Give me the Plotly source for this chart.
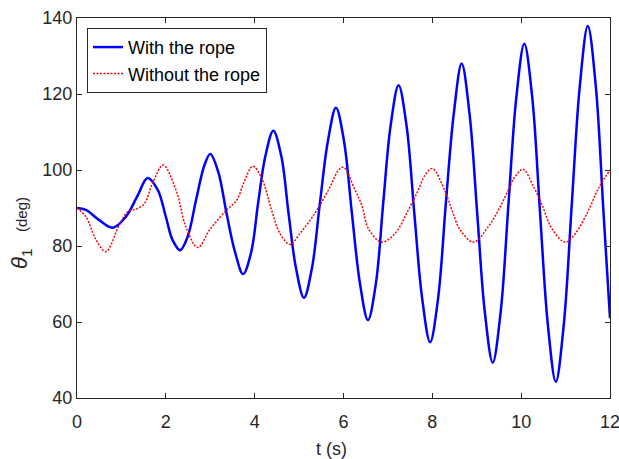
import plotly.graph_objects as go

# With the rope (blue, solid)
t_rope = [0, 0.2, 0.5, 0.80, 1.1, 1.37, 1.59, 1.82, 2.0, 2.15, 2.32, 2.49, 2.68, 2.87,
          3.0, 3.18, 3.37, 3.56, 3.74, 3.92, 4.08, 4.24, 4.42, 4.60, 4.765, 4.93, 5.11,
          5.29, 5.47, 5.65, 5.83, 6.01, 6.19, 6.37, 6.55, 6.73, 6.895, 7.06, 7.24, 7.42,
          7.595, 7.77, 7.95, 8.13, 8.305, 8.48, 8.66, 8.84, 9.01, 9.18, 9.36, 9.54, 9.715,
          9.89, 10.07, 10.25, 10.425, 10.60, 10.78, 10.96, 11.14, 11.32, 11.5, 11.68,
          11.85, 12]
theta_rope = [90, 89.5, 86.8, 84.8, 87.7, 93.4, 97.9, 94.7, 87.7, 81.6, 78.9, 82.4, 92.1, 101.3,
              104.2, 99.5, 88.4, 78.3, 72.6, 78.3, 91.5, 103.6, 110.3, 103.6, 88.4, 74.2, 66.4,
              74.2, 91.4, 107.7, 116.4, 107.7, 88.5, 70.2, 60.5, 70.2, 91.4, 111.6, 122.3, 111.6,
              88.5, 66.3, 54.7, 66.3, 91.35, 114.5, 128.0, 114.5, 88.65, 62.8, 49.3, 62.8, 91.25,
              119.0, 133.2, 119.0, 88.75, 59.4, 44.3, 59.4, 91.1, 122.1, 137.9, 122.1,
              89.5, 61]

# Without the rope (red, dotted)
t_free = [0, 0.2, 0.43, 0.65, 0.95, 1.14, 1.33, 1.52, 1.70, 1.94, 2.23, 2.45, 2.72,
          3.0, 3.37, 3.6, 3.75, 3.96, 4.16, 4.38, 4.57, 4.8, 5.02, 5.25, 5.47, 5.7,
          5.89, 6.0, 6.26, 6.41, 6.56, 6.86, 7.16, 7.46, 7.65, 7.84, 8.0, 8.29, 8.44,
          8.63, 8.93, 9.26, 9.49, 9.71, 9.86, 10.04, 10.28, 10.47, 10.69, 10.99, 11.22,
          11.52, 11.74, 12]
theta_free = [90, 87.7, 81.6, 78.5, 85.5, 89.0, 89.7, 91.2, 96.5, 101.3, 94.7, 85.1, 79.6,
              84.5, 89.5, 92.1, 96.5, 101.0, 97.8, 89.5, 83.3, 80.4, 83.3, 86.8, 90.8, 95.6,
              100.0, 100.7, 94.7, 90.8, 84.6, 81.0, 83.3, 89.5, 93.9, 98.7, 100.4, 94.3, 89.5,
              84.2, 81.0, 85.1, 89.5, 94.7, 98.2, 100.2, 95.6, 90.8, 84.6, 81.0, 83.3,
              89.5, 95.2, 100]

x_ticks = [0, 2, 4, 6, 8, 10, 12]
y_ticks = [40, 60, 80, 100, 120, 140]

fig = go.Figure()
fig.add_trace(go.Scatter(x=t_rope, y=theta_rope, mode="lines", name="With the rope",
                         line=dict(color="rgb(0,0,255)", width=2.5, shape="spline", smoothing=1.0)))
fig.add_trace(go.Scatter(x=t_free, y=theta_free, mode="lines", name="Without the rope",
                         line=dict(color="rgb(255,0,0)", width=1.5, dash="2px,1.5px",
                                   shape="spline", smoothing=1.0)))

axis_common = dict(showline=True, linecolor="#262626", linewidth=1, mirror="ticks",
                   ticks="inside", ticklen=5, tickcolor="#262626", tickwidth=1,
                   showgrid=False, zeroline=False, automargin=False,
                   ticklabeloverflow="allow",
                   tickfont=dict(family="Liberation Sans, Arial", size=18, color="#262626"))

fig.update_layout(
    width=619, height=459,
    margin=dict(l=77, r=9, t=18, b=61),
    paper_bgcolor="white", plot_bgcolor="white",
    xaxis=dict(range=[0, 12], tickvals=x_ticks, ticklabelstandoff=7, **axis_common),
    yaxis=dict(range=[40, 140], tickvals=y_ticks, **axis_common),
    legend=dict(x=0.0188, y=0.974, xanchor="left", yanchor="top",
                bgcolor="white", bordercolor="#262626", borderwidth=1,
                font=dict(family="Liberation Sans, Arial", size=18, color="black"),
                itemwidth=30, tracegroupgap=0),
    showlegend=True,
)

fig.add_annotation(text="t (s)", xref="paper", yref="paper",
                   x=(331 - 77) / 533, y=(398 - 449) / 380, xanchor="center", yanchor="middle",
                   showarrow=False, font=dict(family="Liberation Sans, Arial", size=18, color="#262626"))
fig.add_annotation(text="<i>θ</i><sub>1</sub>",
                   xref="paper", yref="paper", textangle=-90,
                   x=(21 - 77) / 533, y=(398 - 258) / 380, xanchor="center", yanchor="middle",
                   showarrow=False, font=dict(family="Liberation Sans, Arial", size=22, color="#262626"))
fig.add_annotation(text="(deg)",
                   xref="paper", yref="paper", textangle=-90,
                   x=(22 - 77) / 533, y=(398 - 215) / 380, xanchor="center", yanchor="middle",
                   showarrow=False, font=dict(family="Liberation Sans, Arial", size=15, color="#262626"))

fig.write_html("out.html")
